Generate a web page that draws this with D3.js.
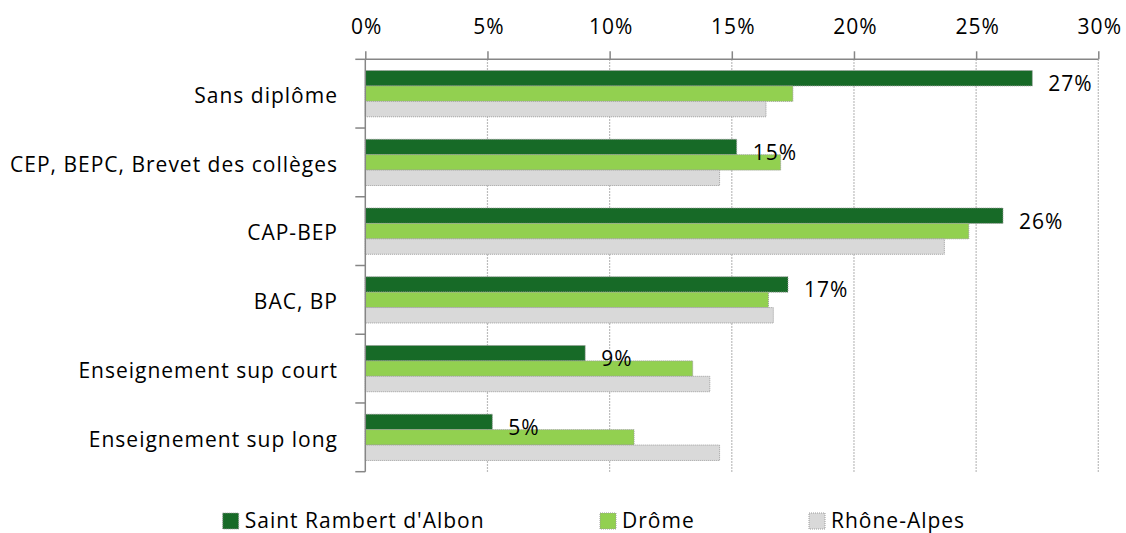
<!DOCTYPE html>
<html>
<head>
<meta charset="utf-8">
<script src="https://cdn.jsdelivr.net/npm/d3@7"></script>
<style>
  html, body { margin: 0; padding: 0; background: #fff; }
  svg text { font-family: "Open Sans", Lato, sans-serif; fill: #000; letter-spacing: 1px; }
</style>
</head>
<body>
<svg id="chart" width="1126" height="533"></svg>
<script>
// Niveau de diplôme de la population non scolarisée (en %)
const categories = [
  "Sans diplôme",
  "CEP, BEPC, Brevet des collèges",
  "CAP-BEP",
  "BAC, BP",
  "Enseignement sup court",
  "Enseignement sup long"
];
const seriesNames = ["Saint Rambert d'Albon", "Drôme", "Rhône-Alpes"];
const saintRambert = [27.3, 15.2, 26.1, 17.3, 9.0, 5.2];
const drome        = [17.5, 17.0, 24.7, 16.5, 13.4, 11.0];
const rhoneAlpes   = [16.4, 14.5, 23.7, 16.7, 14.1, 14.5];
const labelValues  = ["27%", "15%", "26%", "17%", "9%", "5%"];
const tickValues   = [0, 5, 10, 15, 20, 25, 30];
const colors = ["#176a27", "#92d050", "#d9d9d9"];

const seriesValues = [saintRambert, drome, rhoneAlpes];
const rows = categories.map((c, i) => ({
  category: c,
  values: seriesNames.map((s, k) => ({ series: s, k, value: seriesValues[k][i] })),
  label: labelValues[i]
}));

const svg = d3.select("#chart");
const plotLeft = 365.3, plotRight = 1098.3, plotTop = 59.3, plotBottom = 471.7;
const fontSize = 21;
const fontFamily = "'Open Sans', Lato, sans-serif";

const x = d3.scaleLinear().domain([0, 30]).range([plotLeft, plotRight]);
const y = d3.scaleBand().domain(categories).range([plotTop, plotBottom])
  .paddingInner(0.327).paddingOuter(0.1635);
const ySub = d3.scaleBand().domain(seriesNames).range([0, y.bandwidth()]);

// Vertical dotted gridlines
svg.append("g")
  .selectAll("line")
  .data(tickValues.filter(d => d > 0))
  .join("line")
  .attr("x1", d => x(d)).attr("x2", d => x(d))
  .attr("y1", plotTop).attr("y2", plotBottom)
  .attr("stroke", "#a6a6a6")
  .attr("stroke-width", 1.2)
  .attr("stroke-dasharray", "1.5,1.5");

// Bars
const groups = svg.append("g")
  .selectAll("g")
  .data(rows)
  .join("g")
  .attr("transform", d => `translate(0,${y(d.category)})`);

groups.selectAll("rect")
  .data(d => d.values)
  .join("rect")
  .attr("x", x(0))
  .attr("y", d => ySub(d.series))
  .attr("width", d => x(d.value) - x(0))
  .attr("height", ySub.bandwidth())
  .attr("fill", d => colors[d.k])
  .attr("stroke", "#9c9c9c")
  .attr("stroke-width", 1)
  .attr("stroke-dasharray", "1,1");

// Value labels for Saint Rambert d'Albon
groups.append("text")
  .attr("x", d => x(d.values[0].value) + 16)
  .attr("y", d => ySub(seriesNames[0]) + ySub.bandwidth() / 2 + 13)
  .attr("font-size", fontSize)
  .text(d => d.label);

// Top axis
const xAxis = d3.axisTop(x)
  .tickValues(tickValues)
  .tickFormat(d => d + "%")
  .tickSize(8)
  .tickPadding(17);
const gx = svg.append("g")
  .attr("transform", `translate(0,${plotTop})`)
  .call(xAxis);
gx.select(".domain").attr("stroke", "#868686").attr("stroke-width", 1.5)
  .attr("d", `M${plotLeft},0H${plotRight}`);
gx.selectAll(".tick line").attr("stroke", "#868686").attr("stroke-width", 1.5);
gx.selectAll(".tick text")
  .attr("font-size", fontSize)
  .attr("font-family", fontFamily)
  .attr("dx", 1)
  .attr("fill", "#000");

// Left axis with ticks between categories
const gy = svg.append("g");
gy.append("line")
  .attr("x1", plotLeft).attr("x2", plotLeft)
  .attr("y1", plotTop).attr("y2", plotBottom)
  .attr("stroke", "#868686").attr("stroke-width", 1.5);
const boundaries = categories.map(c => y(c) - y.step() * y.paddingInner() / 2)
  .concat([plotBottom]);
gy.selectAll("line.tick")
  .data(boundaries)
  .join("line")
  .attr("class", "tick")
  .attr("x1", plotLeft - 10).attr("x2", plotLeft)
  .attr("y1", d => d).attr("y2", d => d)
  .attr("stroke", "#868686").attr("stroke-width", 1.5);
gy.selectAll("text")
  .data(categories)
  .join("text")
  .attr("x", 338)
  .attr("y", d => y(d) + y.bandwidth() / 2 + 2)
  .attr("dy", "0.35em")
  .attr("text-anchor", "end")
  .attr("font-size", fontSize)
  .text(d => d);

// Legend
const legendX = [222.7, 600, 809];
const legend = svg.append("g")
  .selectAll("g")
  .data(seriesNames)
  .join("g")
  .attr("transform", (d, i) => `translate(${legendX[i]},513)`);
legend.append("rect")
  .attr("width", 16).attr("height", 16)
  .attr("fill", (d, i) => colors[i])
  .attr("stroke", "#9c9c9c")
  .attr("stroke-dasharray", "1,1");
legend.append("text")
  .attr("x", 22).attr("y", 15)
  .attr("font-size", fontSize)
  .text(d => d);
</script>
</body>
</html>
